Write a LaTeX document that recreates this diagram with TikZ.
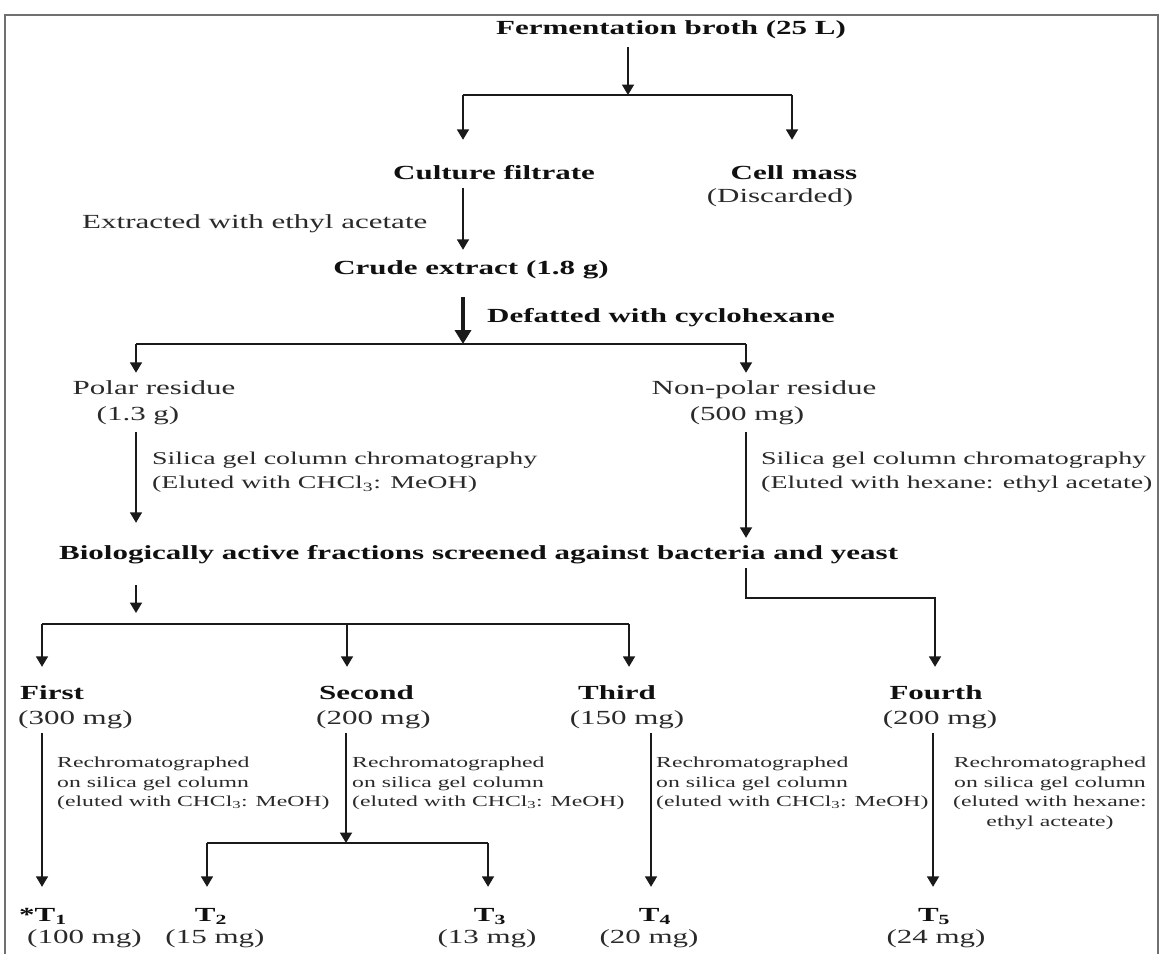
\documentclass[tikz,border=0pt]{standalone}
\usepackage{fontspec}
\setmainfont{Liberation Serif}[FakeStretch=1.55]
\usetikzlibrary{arrows.meta}
\definecolor{lc}{HTML}{1A1A1A}
\definecolor{bc}{HTML}{707070}
\definecolor{tb}{HTML}{101010}
\definecolor{tn}{HTML}{2A2A2A}
\tikzset{
  line/.style={draw=lc, line width=1.8pt},
  arr/.style={line, -{Triangle[width=12pt,length=10.5pt]}},
  thickarr/.style={draw=lc, line width=3.5pt, -{Triangle[width=16pt,length=14pt]}},
  bf/.style={font=\fontsize{20}{24}\selectfont\bfseries, text=tb, inner sep=0pt, text height=14pt, text depth=4pt},
  nf/.style={font=\fontsize{20}{24}\selectfont, text=tn, inner sep=0pt, text height=14pt, text depth=4pt},
  sil/.style={font=\fontsize{18}{24}\selectfont, text=tn, inner sep=0pt, align=left, anchor=north west},
  rech/.style={font=\fontsize{15.3}{19.5}\selectfont, text=tn, inner sep=0pt}
}
\begin{document}
\begin{tikzpicture}[x=1pt,y=-1pt]
\useasboundingbox (0,0) rectangle (1161,954);
\fill[white] (0,0) rectangle (1161,954);
\draw[draw=bc, line width=2pt] (5,954) -- (5,15) -- (1158,15) -- (1158,954);

% junction coordinates
\coordinate (a1) at (628,95);
\coordinate (a1l) at (463,95);
\coordinate (a1r) at (792,95);
\coordinate (a2) at (463,344);
\coordinate (a2l) at (136,344);
\coordinate (a2r) at (746,344);
\coordinate (a3) at (136,624);
\coordinate (a3l) at (42,624);
\coordinate (a3m) at (347,624);
\coordinate (a3r) at (629,624);
\coordinate (k1) at (746,598);
\coordinate (k2) at (935,598);
\coordinate (a4) at (346,843);
\coordinate (a4l) at (207,843);
\coordinate (a4r) at (488,843);
\coordinate (c3) at (651,0);
\coordinate (c4) at (933,0);

% text nodes
\node[bf, anchor=base] (fb) at (671,34) {Fermentation broth (25 L)};
\node[bf, anchor=base] (cf) at (494,179) {Culture filtrate};
\node[bf, anchor=base] (cm) at (794,179) {Cell mass};
\node[nf, anchor=base] (cmd) at (780,202) {(Discarded)};
\node[nf, anchor=base west] (ext) at (82,228) {Extracted with ethyl acetate};
\node[bf, anchor=base] (ce) at (471,274) {Crude extract (1.8 g)};
\node[bf, anchor=base west] (def) at (487,322) {Defatted with cyclohexane};
\node[nf, anchor=base] (pr) at (154,394) {Polar residue};
\node[nf, anchor=base] (prm) at (138,420) {(1.3 g)};
\node[nf, anchor=base] (npr) at (764,394) {Non-polar residue};
\node[nf, anchor=base] (nprm) at (747,420) {(500 mg)};
\node[sil] (sl) at (152,452) {Silica gel column chromatography\\(Eluted with CHCl\textsubscript{3}: MeOH)};
\node[sil] (sr) at (761,452) {Silica gel column chromatography\\(Eluted with hexane: ethyl acetate)};
\node[bf, anchor=base west] (bio) at (59,559) {Biologically active fractions screened against bacteria and yeast};

\node[bf, anchor=base west] (f1) at (20,699) {First};
\node[nf, anchor=base west] (f1m) at (18,724) {(300 mg)};
\node[bf, anchor=base west] (f2) at (319,699) {Second};
\node[nf, anchor=base west] (f2m) at (316,724) {(200 mg)};
\node[bf, anchor=base] (f3) at (617,699) {Third};
\node[nf, anchor=base] (f3m) at (627,724) {(150 mg)};
\node[bf, anchor=base] (f4) at (936,699) {Fourth};
\node[nf, anchor=base] (f4m) at (940,724) {(200 mg)};

\node[rech, align=left, anchor=north west] (r1) at (57,757) {Rechromatographed\\on silica gel column\\(eluted with CHCl\textsubscript{3}: MeOH)};
\node[rech, align=left, anchor=north west] (r2) at (352,757) {Rechromatographed\\on silica gel column\\(eluted with CHCl\textsubscript{3}: MeOH)};
\node[rech, align=left, anchor=north west] (r3) at (656,757) {Rechromatographed\\on silica gel column\\(eluted with CHCl\textsubscript{3}: MeOH)};
\node[rech, align=center, anchor=north] (r4) at (1050,757) {Rechromatographed\\on silica gel column\\(eluted with hexane:\\ethyl acteate)};

\node[bf, anchor=base west] (t1) at (19,921) {*T\textsubscript{1}};
\node[nf, anchor=base west] (t1m) at (27,943) {(100 mg)};
\node[bf, anchor=base] (t2) at (211,921) {T\textsubscript{2}};
\node[nf, anchor=base] (t2m) at (215,943) {(15 mg)};
\node[bf, anchor=base] (t3) at (490,921) {T\textsubscript{3}};
\node[nf, anchor=base] (t3m) at (487,943) {(13 mg)};
\node[bf, anchor=base] (t4) at (655,921) {T\textsubscript{4}};
\node[nf, anchor=base] (t4m) at (649,943) {(20 mg)};
\node[bf, anchor=base] (t5) at (934,921) {T\textsubscript{5}};
\node[nf, anchor=base] (t5m) at (936,943) {(24 mg)};

% connectors
\draw[arr, shorten <=9pt] (fb.south -| a1) -- (a1);
\draw[line] (a1l) -- (a1r);
\draw[arr, shorten >=25pt] (a1l) -- (a1l |- cf.north);
\draw[arr, shorten >=25pt] (a1r) -- (a1r |- cm.north);
\draw[arr, shorten <=5pt, shorten >=10pt] (cf.south -| a1l) -- (a1l |- ce.north);
\draw[thickarr, shorten <=19pt] (ce.south -| a2) -- (a2);
\draw[line] (a2l) -- (a2r);
\draw[arr, shorten >=7pt] (a2l) -- (a2l |- pr.north);
\draw[arr, shorten >=7pt] (a2r) -- (a2r |- npr.north);
\draw[arr, shorten <=8pt, shorten >=22pt] (prm.south -| a2l) -- (a2l |- bio.north);
\draw[arr, shorten <=8pt, shorten >=7pt] (nprm.south -| a2r) -- (a2r |- bio.north);
\draw[arr, shorten <=22pt, shorten >=11pt] (bio.south -| a3) -- (a3);
\draw[line] (a3l) -- (a3r);
\draw[arr, shorten >=18pt] (a3l) -- (a3l |- f1.north);
\draw[arr, shorten >=18pt] (a3m) -- (a3m |- f2.north);
\draw[arr, shorten >=18pt] (a3r) -- (a3r |- f3.north);
\draw[arr, shorten <=5pt, shorten >=18pt] (bio.south -| k1) -- (k1) -- (k2) -- (k2 |- f4.north);
\draw[arr, shorten <=5pt, shorten >=20pt] (f1m.south -| a3l) -- (a3l |- t1.north);
\draw[arr, shorten <=5pt] (f2m.south -| a4) -- (a4);
\draw[line] (a4l) -- (a4r);
\draw[arr, shorten >=20pt] (a4l) -- (a4l |- t2.north);
\draw[arr, shorten >=20pt] (a4r) -- (a4r |- t3.north);
\draw[arr, shorten <=5pt, shorten >=20pt] (f3m.south -| c3) -- (c3 |- t4.north);
\draw[arr, shorten <=5pt, shorten >=20pt] (f4m.south -| c4) -- (c4 |- t5.north);
\end{tikzpicture}
\end{document}
